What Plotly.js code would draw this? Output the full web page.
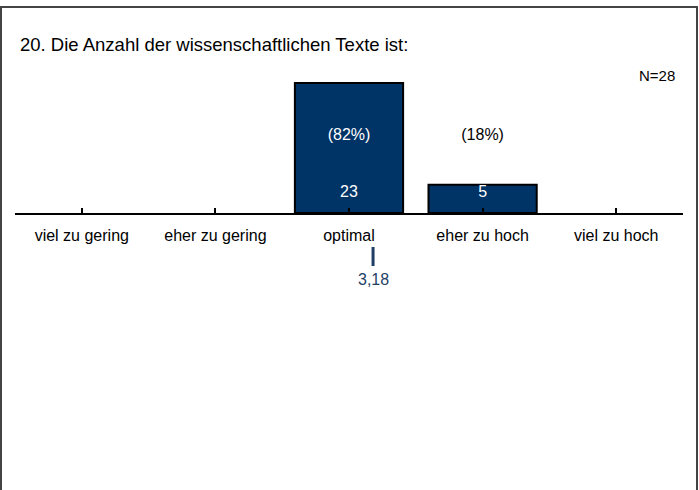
<!DOCTYPE html>
<html>
<head>
<meta charset="utf-8">
<script src="https://cdn.plot.ly/plotly-3.0.1.min.js"></script>
<style>html,body{margin:0;padding:0;background:#fff;}#chart{width:699px;height:490px;}</style>
</head>
<body>
<div id="chart"></div>
<script>
var categories = ["viel zu gering", "eher zu gering", "optimal", "eher zu hoch", "viel zu hoch"];
var counts = [0, 0, 23, 5, 0];
var percents = [0, 0, 82, 18, 0];
var positions = [1, 2, 3, 4, 5];
var meanValue = 3.18;
var nTotal = 28;
var titleText = "20. Die Anzahl der wissenschaftlichen Texte ist:";

var FONT = "Liberation Sans, Arial, sans-serif";
var BAR = "#003366";
var MEANC = "#1f3f66";

var yTop = 27.08;
var countLabelY = 3.5;
var pctLabelY = 13.6;

var lx = [], lyC = [], lyP = [], tC = [], tP = [], cC = [], cP = [];
for (var i = 0; i < categories.length; i++) {
  if (counts[i] > 0) {
    lx.push(positions[i]);
    lyC.push(countLabelY);
    lyP.push(pctLabelY);
    tC.push(String(counts[i]));
    tP.push("(" + percents[i] + "%)");
    cC.push(counts[i] > countLabelY ? "#ffffff" : "#000000");
    cP.push(counts[i] > pctLabelY ? "#ffffff" : "#000000");
  }
}

var barsX = [], barsY = [];
for (var j = 0; j < counts.length; j++) {
  if (counts[j] > 0) { barsX.push(positions[j]); barsY.push(counts[j]); }
}

var data = [
  {
    type: "bar", x: barsX, y: barsY, width: 0.81,
    marker: {color: BAR, line: {color: "#000000", width: 2}},
    hoverinfo: "none", showlegend: false
  },
  {
    type: "scatter", mode: "text", x: lx, y: lyC, text: tC,
    textfont: {family: FONT, size: 16, color: cC}, hoverinfo: "none", showlegend: false, cliponaxis: false
  },
  {
    type: "scatter", mode: "text", x: lx, y: lyP, text: tP,
    textfont: {family: FONT, size: 16, color: cP}, hoverinfo: "none", showlegend: false, cliponaxis: false
  }
];

var layout = {
  width: 699, height: 490,
  margin: {l: 15, r: 16, t: 60, b: 277, pad: 0},
  paper_bgcolor: "#ffffff", plot_bgcolor: "#ffffff",
  font: {family: FONT, size: 16, color: "#000000"},
  title: {
    text: titleText, xref: "container", yref: "container",
    x: 20 / 699, xanchor: "left", y: 1 - 45 / 490, yanchor: "middle",
    font: {family: FONT, size: 18.5, color: "#000000"}
  },
  xaxis: {
    range: [0.5, 5.5], tickmode: "array", tickvals: positions, ticktext: categories,
    showline: true, linecolor: "#000000", linewidth: 2,
    ticks: "inside", ticklen: 5, tickwidth: 2, tickcolor: "#000000",
    ticklabelstandoff: 7,
    showgrid: false, zeroline: false, fixedrange: true,
    tickfont: {family: FONT, size: 16, color: "#000000"}
  },
  yaxis: {
    range: [0, yTop], visible: false, showgrid: false, zeroline: false, fixedrange: true
  },
  shapes: [
    {type: "rect", xref: "paper", yref: "paper", x0: (1 - 15) / 668, x1: (697 - 15) / 668,
     y0: -2, y1: (213 - 7) / 153, line: {color: "#444444", width: 2}, fillcolor: "rgba(0,0,0,0)", layer: "above"},
    {type: "line", xref: "x", yref: "paper", x0: meanValue, x1: meanValue,
     y0: -(247 - 213) / 153, y1: -(266 - 213) / 153, line: {color: MEANC, width: 3}}
  ],
  annotations: [
    {xref: "x", yref: "paper", x: meanValue, y: -(279 - 213) / 153, text: meanValue.toFixed(2).replace(".", ","),
     showarrow: false, xanchor: "center", yanchor: "middle", font: {family: FONT, size: 16, color: MEANC}},
    {xref: "paper", yref: "paper", x: (677 - 15) / 668, y: (213 - 75) / 153, text: "N=" + nTotal,
     showarrow: false, xanchor: "right", yanchor: "middle", font: {family: FONT, size: 15, color: "#000000"}}
  ]
};

Plotly.newPlot("chart", data, layout, {displayModeBar: false, staticPlot: true});
</script>
</body>
</html>
